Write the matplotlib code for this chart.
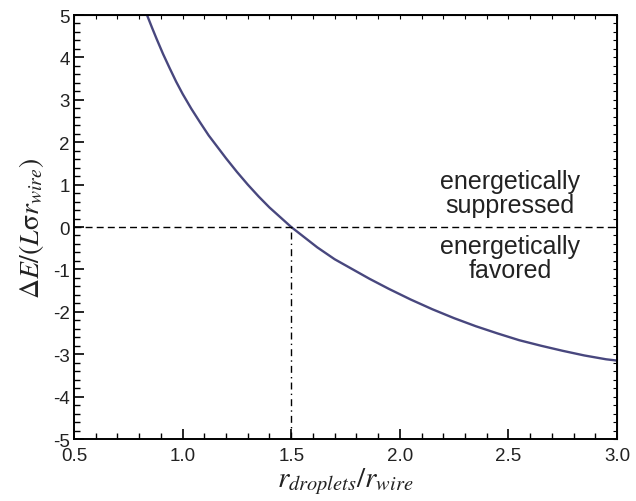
import numpy as np
import matplotlib
matplotlib.use('Agg')
import matplotlib.pyplot as plt
from matplotlib.ticker import MultipleLocator, NullFormatter

plt.rcParams['font.family'] = ['Liberation Sans', 'DejaVu Sans']
plt.rcParams['mathtext.fontset'] = 'stix'
plt.rcParams['axes.unicode_minus'] = False

# values
r_ratio = [0.836, 0.86, 0.88, 0.91, 0.94, 0.97, 1.00, 1.04, 1.08, 1.12, 1.16, 1.20,
           1.25, 1.30, 1.35, 1.40, 1.45, 1.50, 1.56, 1.62, 1.70, 1.78, 1.86, 1.95,
           2.05, 2.15, 2.25, 2.35, 2.45, 2.55, 2.65, 2.75, 2.85, 2.95, 3.0]
delta_e = [5.00, 4.69, 4.44, 4.08, 3.75, 3.43, 3.14, 2.79, 2.47, 2.16, 1.89, 1.62,
           1.30, 1.00, 0.72, 0.46, 0.23, 0.00, -0.24, -0.48, -0.76, -0.99, -1.22, -1.46,
           -1.71, -1.94, -2.15, -2.34, -2.51, -2.67, -2.80, -2.92, -3.03, -3.12, -3.15]

r_crit = 1.5
x_ticks = [0.5, 1.0, 1.5, 2.0, 2.5, 3.0]
y_ticks = [-5, -4, -3, -2, -1, 0, 1, 2, 3, 4, 5]

fig = plt.figure(figsize=(6.36, 5.02), dpi=100)
ax = fig.add_axes([0.1164, 0.1235, 0.8537, 0.8446])

ax.plot(r_ratio, delta_e, color='#48477e', lw=1.7, solid_joinstyle='round')
ax.axhline(0, color='black', lw=1.0, ls=(0, (5, 3)))
ax.plot([r_crit, r_crit], [-5, 0], color='black', lw=1.0, ls=(0, (5, 3, 1, 3)))

ax.set_xlim(0.5, 3.0)
ax.set_ylim(-5, 5)
ax.set_xticks(x_ticks)
ax.set_xticklabels([f'{v:.1f}' for v in x_ticks])
ax.set_yticks(y_ticks)
ax.set_yticklabels([str(v) for v in y_ticks])
ax.xaxis.set_minor_locator(MultipleLocator(0.1))
ax.yaxis.set_minor_locator(MultipleLocator(0.2))
ax.tick_params(which='major', direction='in', length=7, width=1.2, labelsize=13.5,
               labelcolor='#222222')
ax.tick_params(axis='x', which='major', pad=6)
ax.tick_params(axis='y', which='major', pad=3)
ax.tick_params(which='minor', direction='in', length=4, width=1.0)
for s in ax.spines.values():
    s.set_linewidth(1.4)

# short ticks on top and right
top = ax.secondary_xaxis('top')
top.xaxis.set_major_locator(MultipleLocator(0.1))
top.xaxis.set_major_formatter(NullFormatter())
top.tick_params(direction='in', length=3, width=0.8)
right = ax.secondary_yaxis('right')
right.yaxis.set_major_locator(MultipleLocator(0.2))
right.yaxis.set_major_formatter(NullFormatter())
right.tick_params(direction='in', length=3, width=0.8)

ax.set_xlabel(r'$r_{droplets}/r_{wire}$', fontsize=21, labelpad=1, color='#222222')
ax.set_ylabel(r'$\Delta E/(L\mathrm{\sigma} r_{wire})$', fontsize=20, labelpad=5,
              color='#222222')

ax.text(2.507, 0.80, 'energetically\nsuppressed', ha='center', va='center',
        fontsize=18, linespacing=1.0, color='#222222')
ax.text(2.507, -0.72, 'energetically\nfavored', ha='center', va='center',
        fontsize=18, linespacing=1.0, color='#222222')

fig.savefig('out.png', dpi=100)
